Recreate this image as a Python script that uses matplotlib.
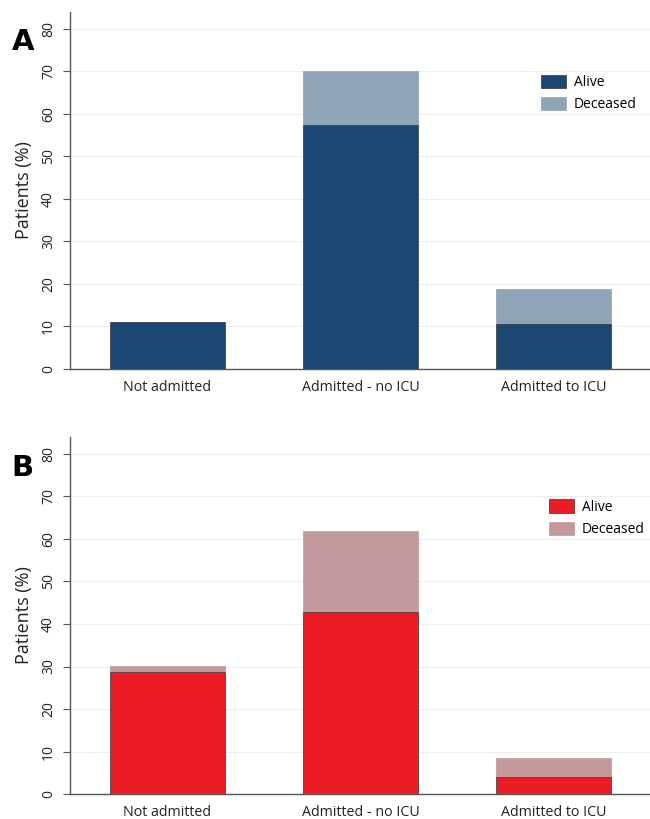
import matplotlib
matplotlib.use("Agg")
import matplotlib.pyplot as plt
import numpy as np

categories = ["Not admitted", "Admitted - no ICU", "Admitted to ICU"]
a_alive = [11.0, 57.5, 10.6]
a_deceased = [0.0, 12.5, 8.3]
b_alive = [28.8, 42.9, 4.1]
b_deceased = [1.3, 18.9, 4.35]
yticks = [0, 10, 20, 30, 40, 50, 60, 70, 80]
series_labels = ["Alive", "Deceased"]

plt.rcParams['font.family'] = ['Open Sans', 'DejaVu Sans']

fig = plt.figure(figsize=(6.5, 8.19), dpi=100)

def panel(rect, alive, dec, c_alive, c_dec, letter, legend_anchor, letter_y):
    ax = fig.add_axes(rect)
    x = np.arange(len(categories))
    ax.bar(x, alive, width=0.6, color=c_alive, edgecolor="#333333", linewidth=0.5, label=series_labels[0], zorder=3)
    ax.bar(x, dec, width=0.6, bottom=alive, color=c_dec, edgecolor=c_dec, linewidth=0.5, label=series_labels[1], zorder=2)
    ax.set_xlim(-0.505, 2.5)
    ax.set_ylim(0, 84)
    ax.set_yticks(yticks)
    ax.set_yticklabels([str(t) for t in yticks], rotation=90, va="center", fontsize=10, color="#222222")
    ax.set_xticks(x)
    ax.set_xticklabels(categories, fontsize=10.3, color="#222222")
    ax.tick_params(axis="x", length=0, pad=8)
    ax.tick_params(axis="y", length=5, width=0.8, color="#555555", pad=5)
    for s in ["top", "right"]:
        ax.spines[s].set_visible(False)
    for s in ["left", "bottom"]:
        ax.spines[s].set_color("#555555")
        ax.spines[s].set_linewidth(1.0)
    ax.yaxis.grid(True, color="#eeeeee", linewidth=0.8, zorder=0)
    ax.set_axisbelow(True)
    ax.set_ylabel("Patients (%)", fontsize=13, color="#222222", labelpad=6)
    ax.legend(loc="upper left", bbox_to_anchor=legend_anchor, frameon=False,
              fontsize=10, handlelength=1.8, handleheight=1.1, handletextpad=0.55,
              labelspacing=0.5, borderaxespad=0)
    fig.text(0.018, letter_y, letter, fontsize=21, fontweight="bold",
             family="DejaVu Sans", va="top", ha="left")
    return ax

panel([0.1077, 0.5495, 0.8923, 0.4359], a_alive, a_deceased, "#1b4872", "#8fa4b7", "A", (0.803, 0.84), 1 - 28/819)
panel([0.1077, 0.0302, 0.8923, 0.4366], b_alive, b_deceased, "#ec1c24", "#c4999b", "B", (0.817, 0.84), 1 - 454/819)

fig.savefig("out.png", dpi=100)
